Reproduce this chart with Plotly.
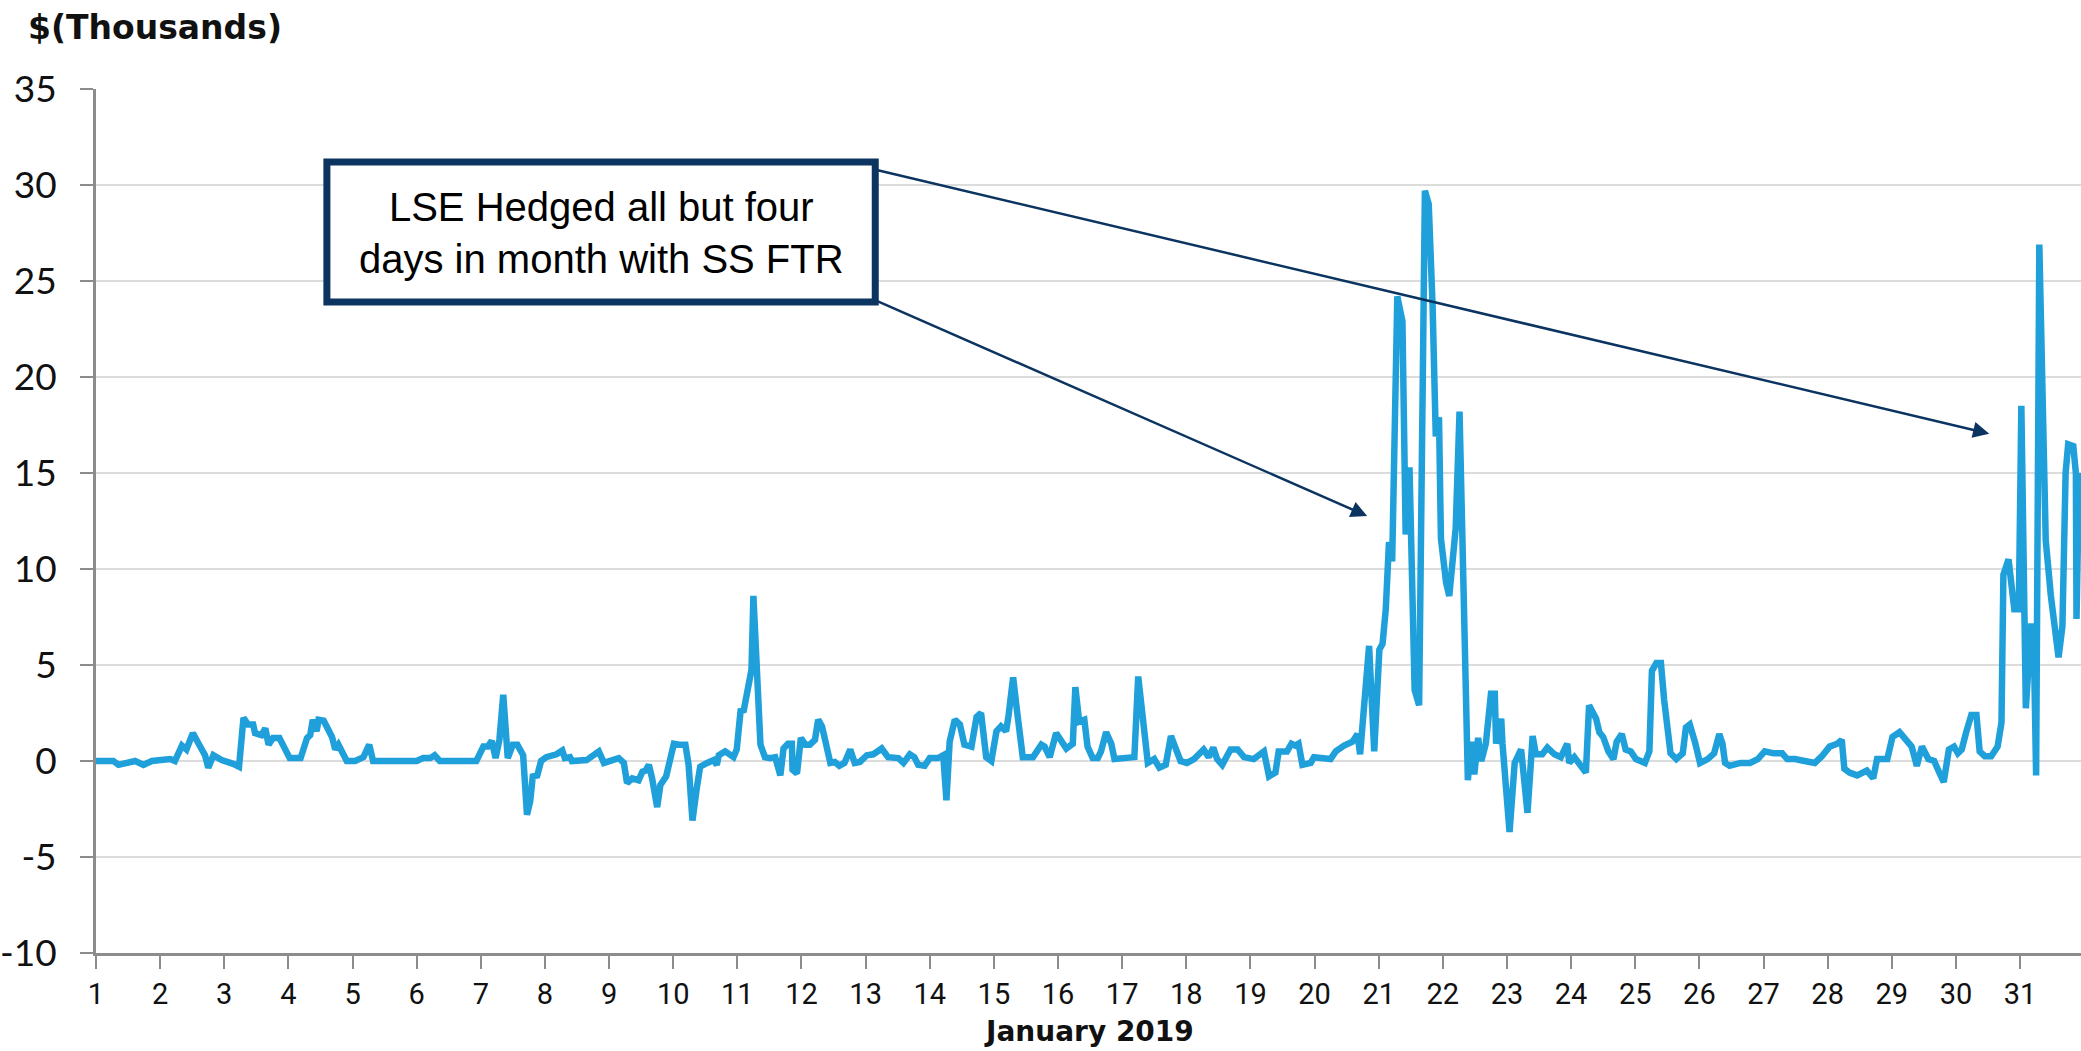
import plotly.graph_objects as go

# Hourly-profile vertices: day of January 2019 (fractional) and $ thousands
days = [
    1.00, 1.27, 1.35, 1.48, 1.61, 1.74, 1.87, 2.16, 2.23, 2.34, 2.41, 2.51, 2.57, 2.65, 2.70, 2.75,
    2.83, 2.96, 3.14, 3.23, 3.30, 3.37, 3.45, 3.48, 3.58, 3.64, 3.69, 3.76, 3.86, 3.93, 4.02, 4.19,
    4.29, 4.34, 4.38, 4.44, 4.47, 4.55, 4.62, 4.68, 4.73, 4.78, 4.91, 5.04, 5.17, 5.26, 5.32, 6.00,
    6.10, 6.21, 6.28, 6.36, 6.93, 7.04, 7.11, 7.17, 7.23, 7.29, 7.35, 7.42, 7.50, 7.57, 7.66, 7.72,
    7.77, 7.81, 7.88, 7.94, 8.02, 8.18, 8.27, 8.31, 8.39, 8.42, 8.65, 8.81,
    8.84, 8.92, 9.15, 9.23, 9.28, 9.36, 9.46, 9.52, 9.57, 9.62, 9.67, 9.75, 9.80, 9.89, 10.01, 10.09,
    10.19, 10.24, 10.30, 10.37, 10.42, 10.53, 10.63, 10.68, 10.71, 10.81, 10.86, 10.94, 10.99, 11.05,
    11.10, 11.16, 11.22, 11.25, 11.29, 11.36, 11.43, 11.51, 11.59, 11.67, 11.72, 11.79, 11.85, 11.86,
    11.93, 11.99, 12.06, 12.13, 12.21, 12.26, 12.32, 12.39, 12.45, 12.52, 12.59, 12.67, 12.76, 12.83,
    12.91, 13.02, 13.12, 13.25, 13.35, 13.51, 13.59, 13.69, 13.76, 13.82, 13.92, 14.00, 14.13, 14.21,
    14.26, 14.31, 14.39, 14.47, 14.54, 14.65, 14.73, 14.80, 14.88, 14.96, 15.04, 15.11, 15.19, 15.23,
    15.30, 15.35, 15.45, 15.61, 15.74, 15.79, 15.87, 15.97, 16.05, 16.13, 16.23, 16.27, 16.33, 16.41,
    16.46, 16.54, 16.62,
    16.67, 16.75, 16.83, 16.88, 17.19, 17.25, 17.35, 17.40, 17.50, 17.58, 17.68, 17.76, 17.83, 17.91,
    18.01, 18.12, 18.27, 18.35, 18.42, 18.48, 18.56, 18.69, 18.80, 18.90, 19.05, 19.21, 19.29, 19.39,
    19.44, 19.57, 19.64, 19.70, 19.75, 19.81, 19.94, 19.99, 20.25, 20.33, 20.46, 20.59, 20.67, 20.71,
    20.85, 20.93, 21.01, 21.06, 21.11, 21.16, 21.21, 21.29, 21.37, 21.40, 21.42, 21.48, 21.50, 21.56,
    21.63, 21.72, 21.78, 21.84, 21.89, 21.94, 21.97, 22.05, 22.10, 22.17, 22.20, 22.26, 22.31, 22.39,
    22.44, 22.49, 22.55, 22.60, 22.67, 22.75, 22.81, 22.83, 22.91, 22.93, 23.04, 23.12, 23.22, 23.32,
    23.40, 23.45, 23.55, 23.63, 23.74, 23.84, 23.94, 23.97, 24.05, 24.13, 24.23, 24.28, 24.39,
    24.44, 24.50, 24.58, 24.66, 24.71, 24.79, 24.85, 24.93, 25.01, 25.15, 25.22, 25.26, 25.33, 25.40,
    25.45, 25.55, 25.64, 25.74, 25.79, 25.85, 25.93, 26.01, 26.13, 26.23, 26.31, 26.36, 26.40, 26.47,
    26.64, 26.79, 26.91, 27.02, 27.16, 27.29, 27.37, 27.49, 27.64, 27.80, 27.91, 28.03, 28.15, 28.22,
    28.26, 28.34, 28.46, 28.61, 28.71, 28.77, 28.93, 29.01, 29.12, 29.24, 29.31, 29.39, 29.47, 29.57,
    29.66, 29.74, 29.81, 29.89, 29.97, 30.03, 30.09, 30.16, 30.24, 30.32, 30.37, 30.45, 30.55, 30.65,
    30.71, 30.74, 30.82, 30.91, 30.98, 31.02, 31.09, 31.17, 31.21, 31.25, 31.30, 31.40, 31.48, 31.60,
    31.66, 31.71, 31.75, 31.83, 31.87, 31.88, 31.92,
]

values = [
    0.0, 0.0, -0.2, -0.1, 0.0, -0.2, 0.0, 0.1, 0.0, 0.8, 0.6, 1.45, 1.0, 0.6, 0.3, -0.35,
    0.3, 0.05, -0.15, -0.3, 2.25, 1.9, 1.9, 1.45, 1.35, 1.7, 0.85, 1.2, 1.2, 0.65, 0.15, 0.15,
    1.2, 1.35, 2.15, 1.55, 2.15, 2.1, 1.55, 1.25, 0.6, 0.85, 0.0, 0.0, 0.2, 0.85, 0.0, 0.0,
    0.15, 0.15, 0.3, 0.0, 0.0, 0.75, 0.75, 1.05, 0.15, 1.1, 3.45, 0.15, 0.85, 0.85, 0.3, -2.8,
    -2.1, -0.8, -0.75, 0.0, 0.2, 0.35, 0.55, 0.15, 0.2, 0.0, 0.05, 0.35,
    0.5, -0.1, 0.15, -0.1, -1.15, -0.9, -1.0, -0.55, -0.5, -0.2, -0.9, -2.4, -1.25, -0.8, 0.9, 0.85,
    0.85, -0.2, -3.1, -1.35, -0.3, -0.1, 0.05, -0.2, 0.3, 0.5, 0.4, 0.2, 0.6, 2.6,
    2.65, 3.9, 4.75, 8.6, 5.7, 0.85, 0.2, 0.15, 0.2, -0.75, 0.65, 0.9, 0.9, -0.45,
    -0.65, 1.2, 0.85, 0.85, 1.1, 2.15, 1.8, 0.85, -0.1, -0.05, -0.25, -0.1, 0.6, -0.1,
    -0.05, 0.3, 0.35, 0.65, 0.2, 0.15, -0.1, 0.35, 0.2, -0.2, -0.25, 0.15, 0.15, 0.3,
    -2.05, 1.0, 2.15, 1.9, 0.85, 0.75, 2.3, 2.5, 0.2, 0.0, 1.55, 1.8, 1.55, 2.4,
    4.35, 2.9, 0.2, 0.2, 0.85, 0.75, 0.2, 1.45, 1.1, 0.65, 0.9, 3.85, 2.05, 2.15,
    0.75, 0.15, 0.15,
    0.5, 1.5, 0.9, 0.1, 0.2, 4.4, 1.4, -0.1, 0.1, -0.35, -0.2, 1.3, 0.7, 0.0,
    -0.1, 0.1, 0.6, 0.2, 0.7, 0.1, -0.2, 0.6, 0.6, 0.2, 0.1, 0.5, -0.8, -0.6,
    0.5, 0.5, 0.9, 0.8, 0.9, -0.2, -0.1, 0.2, 0.1, 0.5, 0.8, 1.0, 1.4, 0.35,
    6.0, 0.5, 5.8, 6.1, 7.9, 11.4, 10.4, 24.2, 22.9, 15.4, 11.8, 15.3, 11.1, 3.7,
    2.9, 29.7, 29.0, 23.7, 16.9, 17.9, 11.6, 9.3, 8.6, 10.9, 12.1, 18.2, 10.0, -1.0,
    1.0, -0.7, 1.2, 0.0, 0.9, 3.5, 3.5, 0.9, 2.2, 0.9, -3.7, -0.1, 0.6, -2.7,
    1.3, 0.35, 0.35, 0.7, 0.35, 0.2, 0.9, -0.1, 0.2, -0.1, -0.6, 2.9, 2.2,
    1.5, 1.25, 0.5, 0.1, 1.0, 1.4, 0.6, 0.5, 0.1, -0.1, 0.5, 4.7, 5.1, 5.1,
    3.2, 0.4, 0.1, 0.4, 1.75, 1.9, 1.0, -0.1, 0.1, 0.4, 1.4, 0.9, -0.1, -0.25,
    -0.1, -0.1, 0.1, 0.5, 0.4, 0.4, 0.1, 0.1, 0.0, -0.1, 0.25, 0.75, 0.9, 1.1,
    -0.4, -0.6, -0.75, -0.5, -0.9, 0.1, 0.1, 1.25, 1.5, 1.1, 0.75, -0.25, 0.75, 0.1,
    0.0, -0.6, -1.1, 0.6, 0.75, 0.4, 0.6, 1.5, 2.4, 2.4, 0.5, 0.25, 0.25, 0.75,
    2.0, 9.7, 10.5, 7.9, 7.9, 18.5, 2.75, 7.0, 7.0, -0.75, 26.9, 11.5, 8.6, 5.4,
    7.0, 15.0, 16.5, 16.4, 15.0, 7.4, 15.0,
]

x_tick_values = list(range(1, 32))
x_tick_labels = [str(d) for d in x_tick_values]
y_tick_values = list(range(-10, 36, 5))
y_tick_labels = [str(v) for v in y_tick_values]

y_title = "$(Thousands)"
x_title = "January 2019"
callout_text = "LSE Hedged all but four<br>days in month with SS FTR"

BLUE = "#1FA0DA"
NAVY = "#0C3461"
AXIS_GREY = "#8C8C8C"
GRID_GREY = "#DCDCDC"

fig = go.Figure()
fig.add_trace(go.Scatter(
    x=days, y=values, mode="lines",
    line=dict(color=BLUE, width=6.5, shape="linear"),
    hoverinfo="skip", showlegend=False,
))

fig.update_layout(
    width=2081, height=1051,
    margin=dict(l=90, r=0, t=89, b=98, pad=0),
    paper_bgcolor="white", plot_bgcolor="white",
    showlegend=False,
    xaxis=dict(
        range=[1, 31.95],
        tickmode="array", tickvals=x_tick_values, ticktext=x_tick_labels,
        showgrid=False, zeroline=False,
        showline=True, linecolor=AXIS_GREY, linewidth=3,
        ticks="outside", ticklen=13, tickwidth=2, tickcolor=AXIS_GREY,
        ticklabelstandoff=0,
        tickfont=dict(family="Roboto, Liberation Sans, sans-serif",
                      size=29, color="#111111"),
    ),
    yaxis=dict(
        range=[-10, 35],
        tickmode="array", tickvals=y_tick_values, ticktext=y_tick_labels,
        showgrid=True, gridcolor=GRID_GREY, gridwidth=2,
        zeroline=False,
        showline=True, linecolor=AXIS_GREY, linewidth=3,
        ticks="outside", ticklen=13, tickwidth=2, tickcolor=AXIS_GREY,
        ticklabelstandoff=16,
        tickfont=dict(family="Lato, Open Sans, sans-serif", size=37, color="#111111"),
    ),
)

# callout box
fig.add_shape(
    type="rect", xref="x", yref="y",
    x0=4.60, x1=13.15, y0=23.9, y1=31.2,
    line=dict(color=NAVY, width=7), fillcolor="white", layer="above",
)
fig.add_annotation(
    x=8.875, y=27.5, xref="x", yref="y",
    text=callout_text, showarrow=False, align="center",
    font=dict(family="Liberation Sans, Arial, sans-serif", size=40, color="black"),
)
# arrows
for tip_x, tip_y, tail_y in [(20.82, 12.76, 24.0), (30.52, 17.05, 30.8)]:
    fig.add_annotation(
        x=tip_x, y=tip_y, xref="x", yref="y",
        ax=13.15, ay=tail_y, axref="x", ayref="y",
        text="", showarrow=True, arrowhead=2, arrowsize=1.3,
        arrowwidth=2.5, arrowcolor=NAVY, standoff=0, startstandoff=0,
    )

# axis titles
fig.add_annotation(
    x=0, y=1, xref="paper", yref="paper", xanchor="left", yanchor="middle",
    xshift=-70, yshift=62, text=y_title, showarrow=False,
    font=dict(family="DejaVu Sans, sans-serif", size=33, color="#111111", weight="bold"),
)
fig.add_annotation(
    x=0.5, y=0, xref="paper", yref="paper", xanchor="center", yanchor="middle",
    yshift=-78, text=x_title, showarrow=False,
    font=dict(family="DejaVu Sans, sans-serif", size=28, color="#111111", weight="bold"),
)

fig.write_html(
    "out.html",
    config={"displayModeBar": False},
    post_script="document.body.style.margin='0';document.body.style.overflow='hidden';",
)
